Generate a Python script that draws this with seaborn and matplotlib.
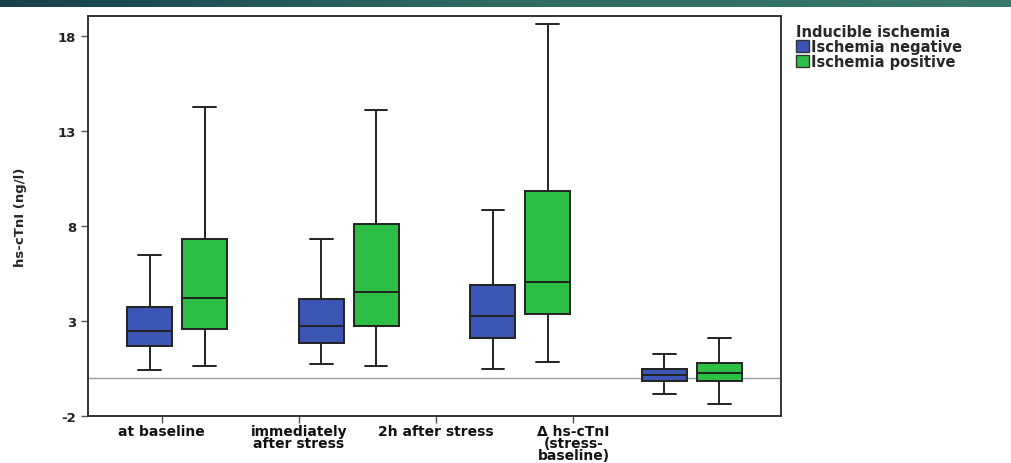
#importing
import numpy as np
import pandas as pd
import matplotlib.pyplot as plt
import seaborn as sns
from matplotlib.patches import Patch
from matplotlib.colors import LinearSegmentedColormap

#data (five-number summaries: min, q1, median, q3, max)
times = ["at baseline", "immediately\nafter stress", "2h after stress",
         "Δ hs-cTnI\n(stress-\nbaseline)"]
groups = ["Ischemia negative", "Ischemia positive"]
neg_stats = [[0.43, 1.69, 2.49, 3.75, 6.50],
             [0.74, 1.85, 2.75, 4.17, 7.34],
             [0.48, 2.12, 3.28, 4.91, 8.82],
             [-0.84, -0.15, 0.16, 0.48, 1.27]]
pos_stats = [[0.64, 2.59, 4.23, 7.34, 14.25],
             [0.64, 2.75, 4.54, 8.13, 14.09],
             [0.85, 3.38, 5.07, 9.82, 18.63],
             [-1.37, -0.15, 0.27, 0.80, 2.12]]
yticks = [-2, 3, 8, 13, 18]
colors = ["#3B56B4", "#2DBE45"]

rows = []
for t, n, p in zip(times, neg_stats, pos_stats):
    for v in n:
        rows.append((t, groups[0], v))
    for v in p:
        rows.append((t, groups[1], v))
df = pd.DataFrame(rows, columns=["time", "group", "value"])

#figure
sns.set_style("white")
plt.rcParams['font.family'] = ['DejaVu Sans']
fig = plt.figure(figsize=(10.11, 4.64), dpi=100)

# dark band across the top
band = fig.add_axes([0, 1 - 8 / 464, 1, 8 / 464])
grad = np.linspace(0, 1, 256).reshape(1, -1)
band_cmap = LinearSegmentedColormap.from_list("band", ["#17404f", "#2f6b63", "#3a7a6c"])
band.imshow(grad, aspect="auto", cmap=band_cmap)
band.axis("off")

ax = fig.add_axes([88 / 1011, 1 - 417 / 464, (781 - 88) / 1011, (417 - 17) / 464])
ax.axhline(0, color="#9a9a9a", lw=1, zorder=0)
sns.boxplot(data=df, x="time", y="value", hue="group", palette=colors,
            width=0.64, gap=0.18, whis=(0, 100), linecolor="#222222",
            linewidth=1.4, saturation=1, legend=False, ax=ax)

ax.set_ylim(-2, 19.06)
ax.set_yticks(yticks)
ax.set_yticklabels([str(v) for v in yticks], fontsize=9.5, fontweight="bold", color="#222222")
ax.set_xticks(np.arange(len(times)) * 0.8 - 0.09)
ax.set_xticklabels(times, fontsize=10, fontweight="bold", color="#111111",
                   linespacing=0.82)
ax.set_xlim(-0.52, 3.52)
ax.tick_params(axis="both", direction="out", length=5, width=1, color="#555555",
               bottom=True, left=True)
ax.tick_params(axis="x", pad=1)
ax.set_xlabel("")
ax.set_ylabel("hs-cTnI (ng/l)", fontsize=9.5, fontweight="bold", labelpad=22)
for s in ax.spines.values():
    s.set_color("#333333")
    s.set_linewidth(1.4)

#legend
handles = [Patch(facecolor=c, edgecolor="#333333") for c in colors]
leg = fig.legend(handles, groups, title="Inducible ischemia", loc="upper left",
                 bbox_to_anchor=(796 / 1011, 1 - 25 / 464), frameon=False,
                 handlelength=0.9, handleheight=0.8, handletextpad=0.1,
                 labelspacing=0.0, borderpad=0, borderaxespad=0, alignment="left",
                 prop={"size": 10.5, "weight": "bold"})
leg.get_title().set_fontsize(10.5)
leg.get_title().set_fontweight("bold")

plt.savefig("out.png", dpi=100)
